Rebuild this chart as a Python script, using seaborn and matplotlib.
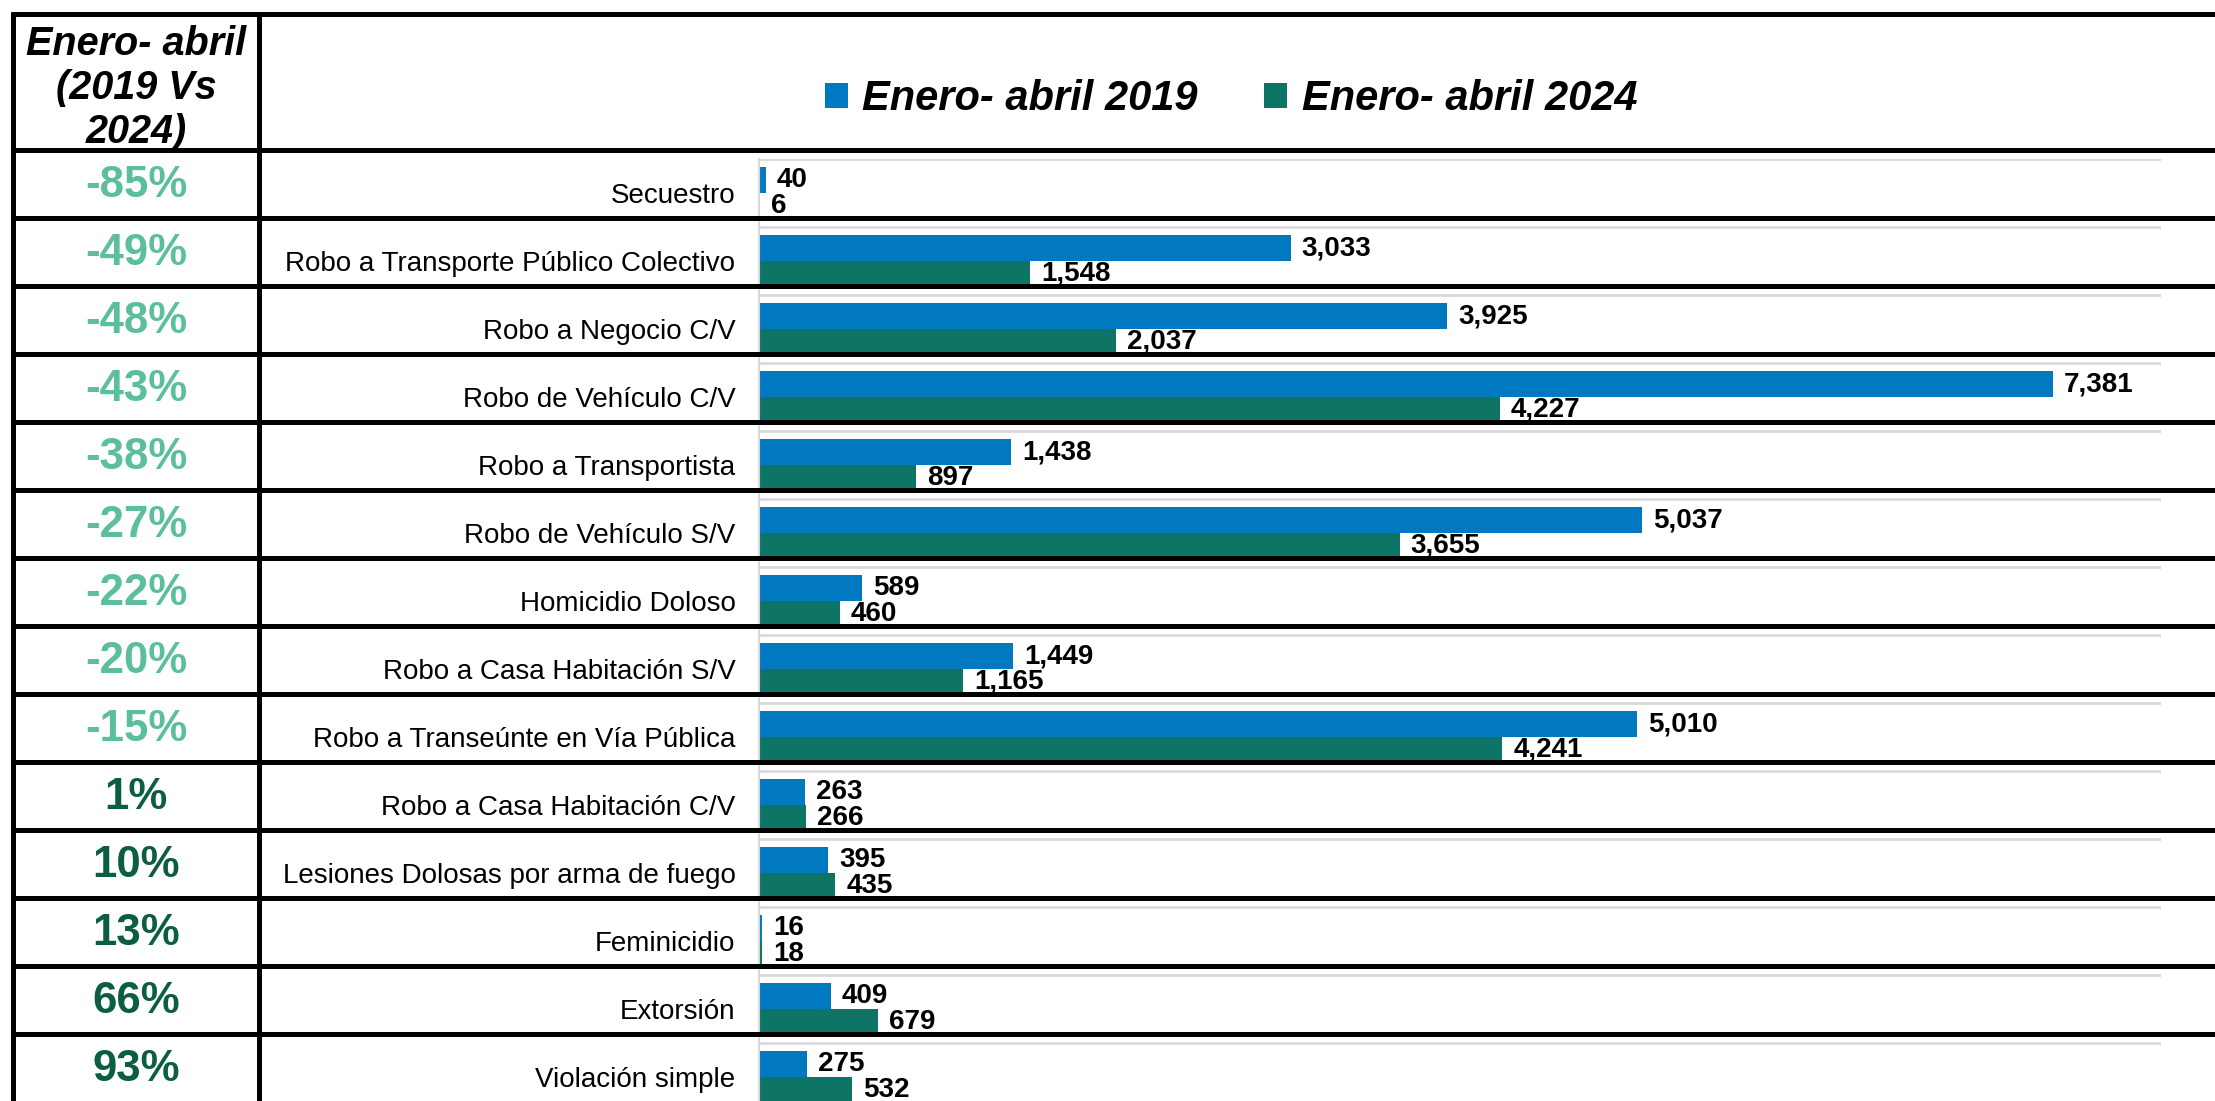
# Enero-abril 2019 vs 2024: delitos por tipo, con variación porcentual

import pandas as pd
import matplotlib.pyplot as plt
import seaborn as sns
from matplotlib.patches import Patch

# datos
delitos = [
    "Secuestro",
    "Robo a Transporte Público Colectivo",
    "Robo a Negocio C/V",
    "Robo de Vehículo C/V",
    "Robo a Transportista",
    "Robo de Vehículo S/V",
    "Homicidio Doloso",
    "Robo a Casa Habitación S/V",
    "Robo a Transeúnte en Vía Pública",
    "Robo a Casa Habitación C/V",
    "Lesiones Dolosas por arma de fuego",
    "Feminicidio",
    "Extorsión",
    "Violación simple",
]
valores_2019 = [40, 3033, 3925, 7381, 1438, 5037, 589, 1449, 5010, 263, 395, 16, 409, 275]
valores_2024 = [6, 1548, 2037, 4227, 897, 3655, 460, 1165, 4241, 266, 435, 18, 679, 532]
variacion = [-85, -49, -48, -43, -38, -27, -22, -20, -15, 1, 10, 13, 66, 93]
periodos = ["Enero- abril 2019", "Enero- abril 2024"]

colores = ["#0079C1", "#0E7466"]
verde_claro = "#5CBF9C"
verde_oscuro = "#0B5E3E"

df = pd.DataFrame({
    "delito": delitos * 2,
    "valor": valores_2019 + valores_2024,
    "periodo": [periodos[0]] * len(delitos) + [periodos[1]] * len(delitos),
})

sns.set_style("white")
plt.rcParams["font.family"] = ["Liberation Sans", "DejaVu Sans"]
plt.rcParams["text.color"] = "black"
plt.rcParams["ytick.color"] = "black"

W, H = 2215, 1101
fig = plt.figure(figsize=(W / 100, H / 100), dpi=100)

# layout in pixels
row_top = 149.5
row_h = 68
ax_top = 159
ax_left, ax_right = 759, 2161

ax = fig.add_axes([ax_left / W, 1 - (ax_top + row_h * len(delitos)) / H,
                   (ax_right - ax_left) / W, row_h * len(delitos) / H])
sns.barplot(data=df, y="delito", x="valor", hue="periodo", hue_order=periodos,
            palette=colores, saturation=1, width=0.76, orient="h", legend=False,
            ax=ax, edgecolor="none", linewidth=0)

for cont in ax.containers:
    ax.bar_label(cont, labels=[f"{int(b.get_width()):,}" for b in cont],
                 padding=8, fontsize=20, fontweight="bold", color="black")

ax.set_xlim(0, 8000)
ax.set_ylim(len(delitos) - 0.5, -0.5)
ax.set_xlabel("")
ax.set_ylabel("")
ax.set_xticks([])
ax.set_yticks(range(len(delitos)))
ax.set_yticklabels(delitos)
ax.tick_params(axis="y", length=0, pad=17, labelsize=20, labelcolor="black")
ax.set_yticks([i - 0.5 for i in range(len(delitos))], minor=True)
ax.tick_params(axis="y", which="minor", length=0)
ax.grid(which="minor", axis="y", color="#d9d9d9", linewidth=2)
ax.grid(which="major", visible=False)
for s in ["top", "right", "bottom"]:
    ax.spines[s].set_visible(False)
ax.spines["left"].set_color("#d9d9d9")
ax.spines["left"].set_linewidth(1.5)

# table overlay
tab = fig.add_axes([0, 0, 1, 1], facecolor="none")
tab.set_xlim(0, W)
tab.set_ylim(H, 0)
tab.axis("off")

lw = 3.6
tab.plot([11, W], [14, 14], color="black", lw=lw, solid_capstyle="butt")
for i in range(len(delitos)):
    y = row_top + row_h * i
    tab.plot([11, W], [y, y], color="black", lw=lw, solid_capstyle="butt")
tab.plot([13, 13], [12, H], color="black", lw=lw, solid_capstyle="butt")
tab.plot([259, 259], [12, H], color="black", lw=lw, solid_capstyle="butt")

tab.text(136, 88, "Enero- abril\n(2019 Vs\n2024)", ha="center", va="center",
         fontsize=28.5, fontweight="bold", fontstyle="italic", linespacing=1.2)

for i, v in enumerate(variacion):
    tab.text(136, row_top + row_h * (i + 0.5) + 2, f"{v}%", ha="center", va="center",
             fontsize=31.5, fontweight="bold",
             color=verde_claro if v < 0 else verde_oscuro)

# legend
handles = [Patch(facecolor=c, edgecolor="none") for c in colores]
fig.legend(handles, periodos, loc="center", bbox_to_anchor=(1231 / W, 1 - 99 / H),
           ncol=2, frameon=False, handlelength=0.55, handleheight=0.55,
           handletextpad=0.35, columnspacing=1.6, labelcolor="black",
           prop={"size": 30, "weight": "bold", "style": "italic"})

fig.savefig("out.png", dpi=100)
